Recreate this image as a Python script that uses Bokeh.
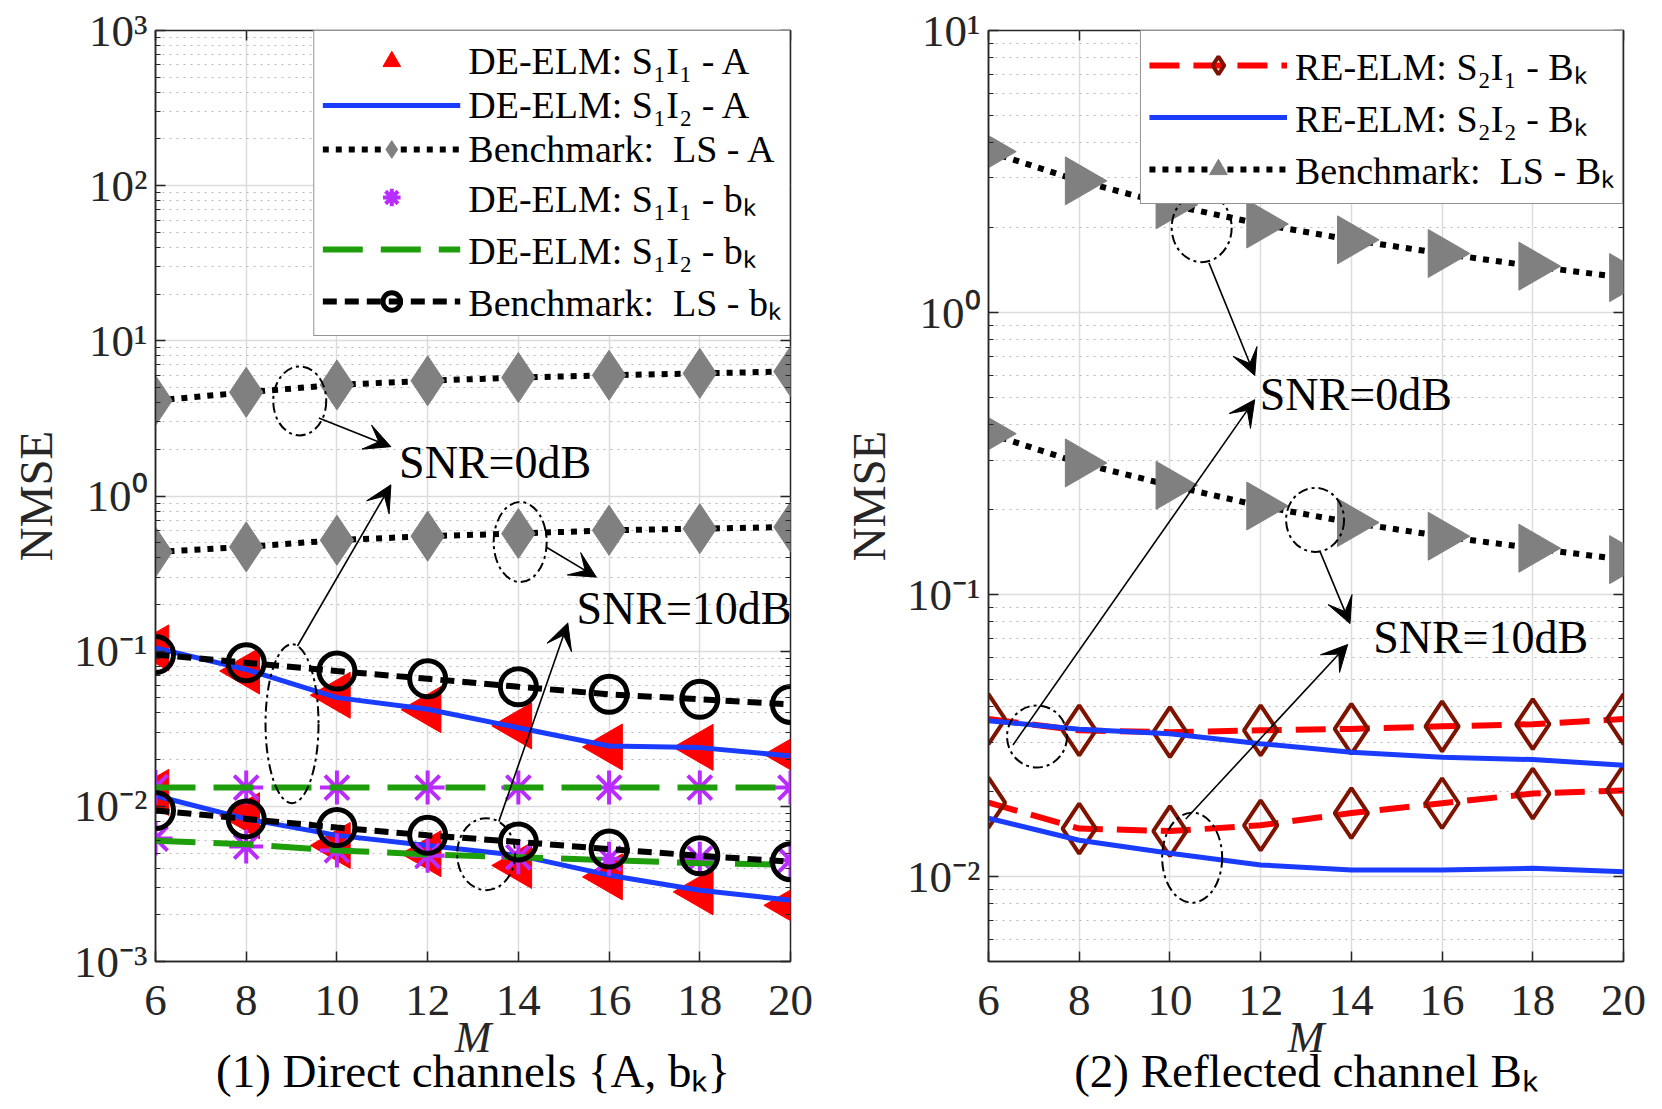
import numpy as np
from bokeh.plotting import figure
from bokeh.models import (Range1d, FixedTicker, CustomJSTickFormatter, Legend, LegendItem,
                          Arrow, VeeHead, Label, Title, LogAxis, LinearAxis)
from bokeh.layouts import row
from bokeh.embed import file_html
from bokeh.resources import INLINE

FONT = "Liberation Serif"

# ---------------- data ----------------
M = [6, 8, 10, 12, 14, 16, 18, 20]
x_ticks = [6, 8, 10, 12, 14, 16, 18, 20]

# Panel (1): direct channels
de_s1i1_A_0dB = [0.105, 0.0745, 0.052, 0.042, 0.033, 0.0241, 0.024, 0.0216]
de_s1i2_A_0dB = [0.105, 0.0762, 0.0502, 0.0422, 0.0321, 0.0245, 0.0239, 0.0211]
ls_A_0dB = [4.12, 4.66, 5.2, 5.53, 5.8, 6.0, 6.17, 6.35]
de_s1i1_b_0dB = [0.0133, 0.0132, 0.0132, 0.0132, 0.0132, 0.0132, 0.0132, 0.0132]
de_s1i2_b_0dB = [0.0132, 0.0132, 0.0132, 0.0132, 0.0132, 0.0132, 0.0132, 0.0132]
ls_b_0dB = [0.0952, 0.0841, 0.0744, 0.0664, 0.059, 0.0527, 0.049, 0.0454]

de_s1i1_A_10dB = [0.0123, 0.0087, 0.0056, 0.00495, 0.00416, 0.00351, 0.00281, 0.0023]
de_s1i2_A_10dB = [0.0117, 0.0083, 0.0065, 0.0056, 0.00483, 0.0036, 0.00288, 0.00248]
ls_A_10dB = [0.436, 0.47, 0.519, 0.551, 0.573, 0.601, 0.616, 0.631]
de_s1i1_b_10dB = [0.0062, 0.0055, 0.0052, 0.0048, 0.0047, 0.0046, 0.0046, 0.0045]
de_s1i2_b_10dB = [0.0060, 0.0057, 0.0052, 0.0049, 0.0047, 0.0045, 0.0043, 0.0042]
ls_b_10dB = [0.0094, 0.0083, 0.0073, 0.0065, 0.0059, 0.0053, 0.0048, 0.0044]

# Panel (2): reflected channel
re_s2i1_B_0dB = [0.0362, 0.033, 0.0325, 0.033, 0.0334, 0.0341, 0.0347, 0.0362]
re_s2i2_B_0dB = [0.0357, 0.0333, 0.0321, 0.0296, 0.0276, 0.0265, 0.026, 0.0248]
ls_B_0dB = [3.72, 2.93, 2.41, 2.06, 1.81, 1.62, 1.46, 1.33]
re_s2i1_B_10dB = [0.0183, 0.0148, 0.0145, 0.0152, 0.0168, 0.0182, 0.0197, 0.0202]
re_s2i2_B_10dB = [0.0161, 0.01346, 0.0121, 0.011, 0.01056, 0.01056, 0.0107, 0.0104]
ls_B_10dB = [0.372, 0.293, 0.244, 0.206, 0.18, 0.161, 0.146, 0.133]

left_major = [1e-3, 1e-2, 1e-1, 1e0, 1e1, 1e2, 1e3]
left_minor = [m * 10.0 ** k for k in range(-3, 3) for m in range(2, 10)]
right_major = [1e-2, 1e-1, 1e0, 1e1]
right_minor = [m * 10.0 ** k for k in range(-3, 1) for m in range(2, 10) if 5e-3 < m * 10.0 ** k < 10]

legend_left = ["DE-ELM: S\u2081I\u2081 - A", "DE-ELM: S\u2081I\u2082 - A", "Benchmark:  LS - A",
               "DE-ELM: S\u2081I\u2081 - b\u2096", "DE-ELM: S\u2081I\u2082 - b\u2096", "Benchmark:  LS - b\u2096"]
legend_right = ["RE-ELM: S\u2082I\u2081 - B\u2096", "RE-ELM: S\u2082I\u2082 - B\u2096", "Benchmark:  LS - B\u2096"]

# colours
RED = "#ff0000"
BLUE = "#1a3cff"
GRAY = "#808080"
PURPLE = "#b92cff"
GREEN = "#1f9e0c"
BROWN = "#7e1300"

SUP = CustomJSTickFormatter(code="""
const s = {'-':'\u207b','0':'\u2070','1':'\u00b9','2':'\u00b2','3':'\u00b3','4':'\u2074',
           '5':'\u2075','6':'\u2076','7':'\u2077','8':'\u2078','9':'\u2079'};
const e = Math.round(Math.log10(tick));
return '10' + String(e).split('').map(c => s[c]).join('');
""")
EMPTY = CustomJSTickFormatter(code="return '';")

H = 1109


def make_fig(width, bl, br, ylo, yhi, major, minor, caption):
    p = figure(width=width, height=H, x_range=Range1d(6, 20), y_range=Range1d(ylo, yhi),
               y_axis_type="log", output_backend="svg", toolbar_location=None,
               min_border_left=bl, min_border_right=br, min_border_top=30, min_border_bottom=148,
               background_fill_color="white", border_fill_color="white")
    p.outline_line_color = "#262626"
    p.outline_line_width = 1.5
    p.xaxis.ticker = FixedTicker(ticks=x_ticks)
    p.yaxis.ticker = FixedTicker(ticks=major, minor_ticks=minor)
    p.yaxis.formatter = SUP
    for ax in (p.xaxis[0], p.yaxis[0]):
        ax.major_label_text_font = FONT
        ax.major_label_text_font_size = "45px"
        ax.major_label_text_color = "#262626"
        ax.axis_line_color = "#262626"
        ax.axis_line_width = 1.5
        ax.major_tick_in = 10
        ax.major_tick_out = 0
        ax.minor_tick_in = 5
        ax.minor_tick_out = 0
        ax.major_tick_line_color = "#262626"
        ax.minor_tick_line_color = "#262626"
        ax.major_tick_line_width = 1.5
        ax.axis_label_text_font = FONT
        ax.axis_label_text_color = "#262626"
    p.xaxis.major_label_standoff = 24
    p.yaxis.major_label_standoff = 8
    p.xaxis.axis_label = "M"
    p.xaxis.axis_label_text_font_style = "italic"
    p.xaxis.axis_label_text_font_size = "44px"
    p.xaxis.axis_label_standoff = -5
    p.yaxis.axis_label = "NMSE"
    p.yaxis.axis_label_text_font_style = "normal"
    p.yaxis.axis_label_text_font_size = "47px"
    p.yaxis.axis_label_standoff = 9
    # box ticks on top and right
    top = LinearAxis(ticker=FixedTicker(ticks=x_ticks), formatter=EMPTY, major_tick_in=10,
                     major_tick_out=0, axis_line_color=None, major_tick_line_color="#262626",
                     major_tick_line_width=1.5, major_label_text_font_size="1px")
    right = LogAxis(ticker=FixedTicker(ticks=major, minor_ticks=minor), formatter=EMPTY,
                    major_tick_in=10, major_tick_out=0, minor_tick_in=5, minor_tick_out=0,
                    axis_line_color=None, major_tick_line_color="#262626",
                    minor_tick_line_color="#262626", major_tick_line_width=1.5,
                    major_label_text_font_size="1px")
    p.add_layout(top, "above")
    p.add_layout(right, "right")
    p.xgrid.grid_line_color = "#dcdcdc"
    p.xgrid.grid_line_width = 1.5
    p.ygrid.grid_line_color = "#dcdcdc"
    p.ygrid.grid_line_width = 1.5
    p.ygrid.minor_grid_line_color = "#b8b8b8"
    p.ygrid.minor_grid_line_dash = "2 5"
    p.ygrid.minor_grid_line_width = 1.2
    cap = Title(text=caption, align="center", text_font=FONT, text_font_size="47px",
                text_font_style="normal", text_color="black", standoff=-44)
    p.add_layout(cap, "below")
    return p


def arrow(p, xs, ys, xe, ye):
    p.add_layout(Arrow(end=VeeHead(size=26, fill_color="black", line_color="black", line_width=1),
                       x_start=xs, y_start=ys, x_end=xe, y_end=ye, line_width=1.6, line_color="black"))


def note(p, x, y, txt):
    p.add_layout(Label(x=x, y=y, text=txt, text_baseline="middle", text_align="left",
                       text_font=FONT, text_font_size="46px", text_color="black",
                       background_fill_color=None))


# ---------------- panel 1 ----------------
p1 = make_fig(820, 155, 30, 1e-3, 1e3, left_major, left_minor,
              "(1) Direct channels {A, b\u2096}")

tri_kw = dict(marker="triangle", size=46, angle=np.pi / 2, fill_color=RED, line_color=RED)
r_tri = [p1.scatter(M, d, **tri_kw) for d in (de_s1i1_A_0dB, de_s1i1_A_10dB)]
r_blue = [p1.line(M, d, line_color=BLUE, line_width=5) for d in (de_s1i2_A_0dB, de_s1i2_A_10dB)]
r_lsA_l = [p1.line(M, d, line_color="black", line_width=6, line_dash="6 7") for d in (ls_A_0dB, ls_A_10dB)]
r_lsA_m = [p1.scatter(M, d, marker="diamond", size=50, fill_color=GRAY, line_color=GRAY)
           for d in (ls_A_0dB, ls_A_10dB)]
r_ast = [p1.scatter(M, d, marker="asterisk", size=34, line_color=PURPLE, line_width=4)
         for d in (de_s1i1_b_0dB, de_s1i1_b_10dB)]
r_green = [p1.line(M, d, line_color=GREEN, line_width=6, line_dash="40 18")
           for d in (de_s1i2_b_0dB, de_s1i2_b_10dB)]
r_lsb_l = [p1.line(M, d, line_color="black", line_width=6, line_dash="14 8") for d in (ls_b_0dB, ls_b_10dB)]
r_lsb_m = [p1.scatter(M, d, marker="circle", size=36, fill_color=None, line_color="black", line_width=5)
           for d in (ls_b_0dB, ls_b_10dB)]

# annotations panel 1
p1.ellipse(x=[9.18, 14.04, 9.01, 13.29], y=[4.1, 0.505, 0.0341, 0.00492],
           width=[53, 53, 53, 58], height=[69, 80, 159, 72],
           width_units="screen", height_units="screen", fill_color=None,
           line_color="black", line_width=2, line_dash="10 4 3 4")
arrow(p1, 9.6, 3.18, 11.19, 2.08)
arrow(p1, 14.62, 0.467, 15.72, 0.30)
arrow(p1, 9.13, 0.108, 11.19, 1.18)
arrow(p1, 13.57, 0.0080, 15.09, 0.152)
note(p1, 11.37, 1.64, "SNR=0dB")
note(p1, 15.28, 0.187, "SNR=10dB")

lg1 = Legend(items=[
    LegendItem(label=legend_left[0], renderers=[r_tri[0]]),
    LegendItem(label=legend_left[1], renderers=[r_blue[0]]),
    LegendItem(label=legend_left[2], renderers=[r_lsA_l[0], r_lsA_m[0]]),
    LegendItem(label=legend_left[3], renderers=[r_ast[0]]),
    LegendItem(label=legend_left[4], renderers=[r_green[0]]),
    LegendItem(label=legend_left[5], renderers=[r_lsb_l[0], r_lsb_m[0]]),
], location="top_right")

# ---------------- panel 2 ----------------
p2 = make_fig(834, 168, 31, 5e-3, 10, right_major, right_minor,
              "(2) Reflected channel B\u2096")

r_red = [p2.line(M, d, line_color=RED, line_width=6, line_dash="30 14")
         for d in (re_s2i1_B_0dB, re_s2i1_B_10dB)]
r_dia = [p2.scatter(M, d, marker="diamond", size=50, fill_color=None, line_color=BROWN, line_width=4)
         for d in (re_s2i1_B_0dB, re_s2i1_B_10dB)]
r_blue2 = [p2.line(M, d, line_color=BLUE, line_width=5) for d in (re_s2i2_B_0dB, re_s2i2_B_10dB)]
r_lsB_l = [p2.line(M, d, line_color="black", line_width=6, line_dash="6 7") for d in (ls_B_0dB, ls_B_10dB)]
r_lsB_m = [p2.scatter(M, d, marker="triangle", size=48, angle=-np.pi / 2, fill_color=GRAY, line_color=GRAY)
           for d in (ls_B_0dB, ls_B_10dB)]

p2.ellipse(x=[10.7, 13.2, 7.07, 10.49], y=[2.0, 0.184, 0.0314, 0.01167],
           width=[60, 58, 60, 60], height=[69, 64, 62, 90],
           width_units="screen", height_units="screen", fill_color=None,
           line_color="black", line_width=2, line_dash="10 4 3 4")
arrow(p2, 10.86, 1.50, 11.87, 0.598)
arrow(p2, 13.31, 0.142, 13.97, 0.0789)
arrow(p2, 6.54, 0.0293, 11.87, 0.491)
arrow(p2, 10.35, 0.016, 13.92, 0.0665)
note(p2, 11.98, 0.513, "SNR=0dB")
note(p2, 14.48, 0.0706, "SNR=10dB")

lg2 = Legend(items=[
    LegendItem(label=legend_right[0], renderers=[r_red[0], r_dia[0]]),
    LegendItem(label=legend_right[1], renderers=[r_blue2[0]]),
    LegendItem(label=legend_right[2], renderers=[r_lsB_l[0], r_lsB_m[0]]),
], location="top_right")

for lg in (lg1, lg2):
    lg.margin = 0
    lg.padding = 8
    lg.spacing = 0
    lg.glyph_width = 138
    lg.glyph_height = 44
    lg.label_height = 44
    lg.label_standoff = 8
    lg.label_text_font = FONT
    lg.label_text_font_size = "38px"
    lg.label_text_color = "black"
    lg.border_line_color = "#262626"
    lg.border_line_width = 1.5
    lg.background_fill_alpha = 1.0
p1.add_layout(lg1)
p2.add_layout(lg2)

layout = row(p1, p2)
open("out.html", "w").write(file_html(layout, INLINE))
